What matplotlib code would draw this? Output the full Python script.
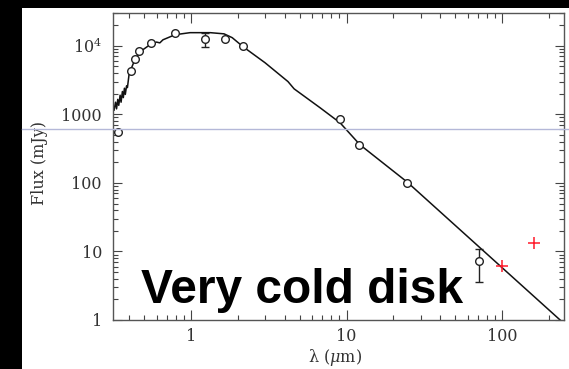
import matplotlib
matplotlib.use("Agg")
import matplotlib.pyplot as plt
import matplotlib.transforms as mtransforms
from matplotlib.lines import Line2D
from matplotlib.patches import Rectangle
from matplotlib.ticker import FixedLocator, LogLocator, NullFormatter

plt.rcParams["mathtext.fontset"] = "dejavuserif"
plt.rcParams["font.family"] = ["DejaVu Serif"]

# Photometry (wavelength in micron, flux in mJy)
phot_wave = [0.341, 0.41, 0.436, 0.465, 0.551, 0.789, 1.23, 1.65, 2.17, 9.08, 12.1, 24.4, 71.1]
phot_flux = [550, 4220, 6450, 8260, 10960, 15300, 12500, 12600, 10000, 850, 359, 99, 7.27]

# Points with error bars
err_wave = [1.23, 71.1]
err_flux = [12500, 7.27]
err_low = [9440, 3.6]
err_high = [15300, 10.9]

# Far-infrared excess points
ir_wave = [100.5, 161]
ir_flux = [6.1, 13.2]

# Stellar photosphere model
model_wave = [0.32, 0.327, 0.332, 0.338, 0.343, 0.35, 0.355, 0.362, 0.367,
              0.373, 0.378, 0.385, 0.39, 0.40, 0.43, 0.47, 0.545, 0.60,
              0.63, 0.66, 0.70, 0.79, 0.985, 1.33, 1.63, 1.84, 2.16, 2.99,
              4.2, 4.6, 6.76, 9.08, 12.2, 24.5, 236, 260]
model_flux = [1150, 1500, 1200, 1650, 1350, 1900, 1500, 2150, 1750,
              2400, 1950, 2600, 2450, 3900, 5840, 8170, 10350, 11300,
              11000, 12200, 12900, 14470, 15500, 15500, 14900, 13100, 9670, 5650,
              3000, 2350, 1244, 752, 359, 103, 1.0, 0.82]

x_ticks = [1, 10, 100]
x_tick_labels = ["1", "10", "100"]
y_ticks = [1, 10, 100, 1000, 10000]
y_tick_labels = ["1", "10", "100", "1000", r"$10^4$"]

W, H = 569, 369
fig = plt.figure(figsize=(W / 100, H / 100), dpi=100, facecolor="black")
fig.add_artist(Rectangle((22 / W, 0), (W - 22) / W, (H - 8) / H,
                         transform=fig.transFigure, facecolor="white",
                         edgecolor="none", zorder=-5))

ax = fig.add_axes([113 / W, 49 / H, 451 / W, 307 / H])
ax.set_xscale("log")
ax.set_yscale("log")

ax.plot(model_wave, model_flux, color="#111111", lw=1.1, zorder=2)
ax.errorbar(err_wave, err_flux,
            yerr=[[f - lo for f, lo in zip(err_flux, err_low)],
                  [hi - f for f, hi in zip(err_flux, err_high)]],
            fmt="none", ecolor="#222222", elinewidth=1.0, capsize=3, capthick=1.0, zorder=3)
ax.plot(phot_wave, phot_flux, "o", mfc="white", mec="#222222", ms=5.5, mew=1.0, zorder=4)
ax.plot(ir_wave, ir_flux, "+", color="#ff1a2a", ms=8, mew=1.1, zorder=4)

ax.set_xlim(0.315, 250)
ax.set_ylim(1, 30000)

ax.xaxis.set_major_locator(FixedLocator(x_ticks))
ax.xaxis.set_minor_locator(LogLocator(base=10, subs=range(2, 10)))
ax.xaxis.set_minor_formatter(NullFormatter())
ax.set_xticklabels(x_tick_labels)
ax.yaxis.set_major_locator(FixedLocator(y_ticks))
ax.yaxis.set_minor_locator(LogLocator(base=10, subs=range(2, 10)))
ax.yaxis.set_minor_formatter(NullFormatter())
ax.set_yticklabels([])

tick_col = "#444444"
ax.tick_params(which="both", direction="in", top=True, right=True, color=tick_col,
               labelcolor="#333333", labelsize=11.5)
ax.tick_params(axis="x", which="major", length=7.5, width=0.8, pad=5.5)
ax.tick_params(axis="y", which="major", length=6.5, width=0.8)
ax.tick_params(which="minor", length=3.7, width=0.8)
for s in ax.spines.values():
    s.set_color("#555555")
    s.set_linewidth(1.0)

# y tick labels, right-aligned a fixed gap left of the spine
ylab_trans = (mtransforms.blended_transform_factory(ax.transAxes, ax.transData)
              + mtransforms.ScaledTranslation(-8.0 / 72, 0, fig.dpi_scale_trans))
for v, lab in zip(y_ticks, y_tick_labels):
    ax.text(0, v, lab, transform=ylab_trans, ha="right", va="center_baseline",
            fontsize=11.5, color="#333333", clip_on=False)

fig.text(40 / W, (H - 163) / H, "Flux (mJy)", rotation=90, ha="center", va="center",
         fontsize=11.5, color="#333333")
fig.text(335 / W, (H - 358) / H, r"λ ($\mu$m)", ha="center", va="center",
         fontsize=11.5, color="#333333")

fig.text(141 / W, (H - 303) / H, "Very cold disk", fontfamily="Liberation Sans",
         fontweight="bold", fontsize=34.5, ha="left", va="baseline", color="black",
         zorder=20)

fig.add_artist(Line2D([22 / W, 1], [(H - 129) / H] * 2, transform=fig.transFigure,
                      color="#b4b8d8", lw=1.0, zorder=15))

fig.savefig("out.png", dpi=100, facecolor=fig.get_facecolor())
